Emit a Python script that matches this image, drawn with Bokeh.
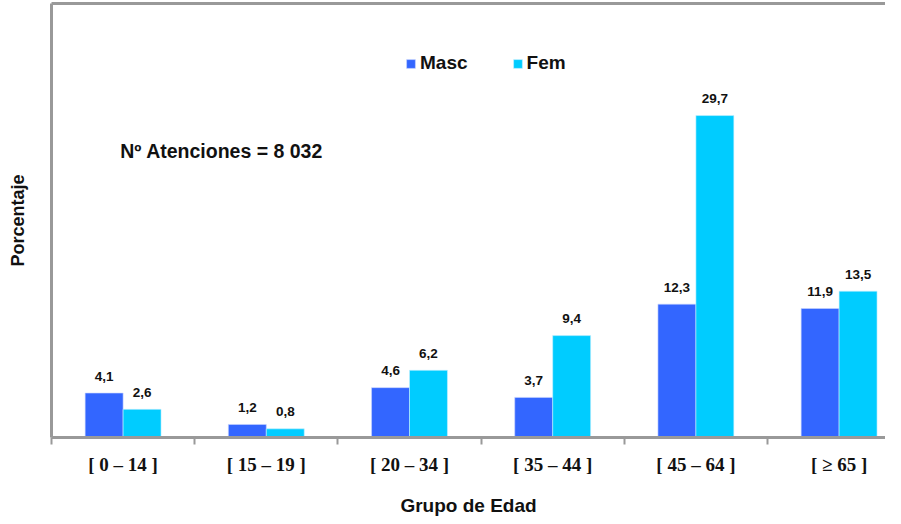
from bokeh.plotting import figure
from bokeh.models import (ColumnDataSource, Range1d, FixedTicker, LinearAxis,
                          Legend, LegendItem)
from bokeh.core.properties import value
from bokeh.embed import file_html
from bokeh.resources import INLINE

categories = ["[ 0 – 14 ]", "[ 15 – 19 ]", "[ 20 – 34 ]", "[ 35 – 44 ]", "[ 45 – 64 ]", "[ ≥ 65 ]"]
masc = [4.1, 1.2, 4.6, 3.7, 12.3, 11.9]
fem = [2.6, 0.8, 6.2, 9.4, 29.7, 13.5]
masc_labels = ["4,1", "1,2", "4,6", "3,7", "12,3", "11,9"]
fem_labels = ["2,6", "0,8", "6,2", "9,4", "29,7", "13,5"]
annotation = "Nº Atenciones  = 8 032"

C_MASC = "#3366FF"
C_FEM = "#00CCFF"
GRAY = "#999999"
SANS = "Liberation Sans"
SERIF = "Liberation Serif"

n = len(categories)
centers = [i + 0.5 for i in range(n)]
bw = 0.265
xm = [c - bw / 2 for c in centers]
xf = [c + bw / 2 for c in centers]

src = ColumnDataSource(dict(xm=xm, xf=xf, masc=masc, fem=fem,
                            ml=masc_labels, fl=fem_labels))

FW, FH = 834, 434
p = figure(frame_width=FW, frame_height=FH, output_backend="svg",
           toolbar_location=None, x_range=Range1d(0, FW / 143.2),
           y_range=Range1d(0, FH / 10.84),
           min_border_left=51, min_border_right=0, min_border_top=3,
           min_border_bottom=0)
p.outline_line_color = None
p.xgrid.visible = False
p.ygrid.visible = False
p.background_fill_color = "white"

r_m = p.vbar(x="xm", top="masc", width=bw, source=src, fill_color=C_MASC,
             line_color="#c8d4ff", line_width=0.6)
r_f = p.vbar(x="xf", top="fem", width=bw, source=src, fill_color=C_FEM,
             line_color="#c8f0ff", line_width=0.6)

lab_kw = dict(text_font=value(SANS), text_font_style="bold",
              text_font_size="13.5px", text_align="center",
              text_baseline="alphabetic", y_offset=-17, text_color="#111111")
p.text(x="xm", y="masc", text="ml", source=src, **lab_kw)
p.text(x="xf", y="fem", text="fl", source=src, **lab_kw)

p.text(x=[0.48], y=[26.4], text=[annotation], text_font=value(SANS),
       text_font_style="bold", text_font_size="19.5px", text_align="left",
       text_baseline="middle", text_color="#111111")

# bottom axis
xa = p.xaxis[0]
xa.ticker = FixedTicker(ticks=centers, minor_ticks=list(range(n)))
xa.major_label_overrides = {c: lab for c, lab in zip(centers, categories)}
xa.major_tick_out = 0
xa.major_tick_in = 0
xa.minor_tick_out = 7
xa.minor_tick_in = 0
xa.minor_tick_line_color = GRAY
xa.minor_tick_line_width = 2
xa.axis_line_color = GRAY
xa.axis_line_width = 3
xa.major_label_text_font = SERIF
xa.major_label_text_font_style = "bold"
xa.major_label_text_font_size = "19px"
xa.major_label_text_color = "#111111"
xa.major_label_standoff = 9
xa.axis_label = "Grupo de Edad"
xa.axis_label_text_font = SANS
xa.axis_label_text_font_style = "bold"
xa.axis_label_text_font_size = "19px"
xa.axis_label_text_color = "#111111"
xa.axis_label_standoff = 17

# left axis
ya = p.yaxis[0]
ya.ticker = FixedTicker(ticks=[])
ya.major_tick_line_color = None
ya.minor_tick_line_color = None
ya.major_label_text_font_size = "0px"
ya.axis_line_color = GRAY
ya.axis_line_width = 3
ya.axis_label = "Porcentaje"
ya.axis_label_text_font = SANS
ya.axis_label_text_font_style = "bold"
ya.axis_label_text_font_size = "18px"
ya.axis_label_text_color = "#111111"
ya.axis_label_standoff = 24

# top line
top = LinearAxis(ticker=FixedTicker(ticks=[]), axis_line_color=GRAY,
                 axis_line_width=3, major_tick_line_color=None,
                 minor_tick_line_color=None, major_label_text_font_size="0px")
p.add_layout(top, "above")

legend = Legend(items=[LegendItem(label="Masc", renderers=[r_m]),
                       LegendItem(label="Fem", renderers=[r_f])],
                orientation="horizontal", location=(354, 363),
                border_line_color=None, background_fill_alpha=0,
                padding=0, margin=0, glyph_width=11, glyph_height=11,
                label_standoff=4, spacing=44,
                label_text_font=SANS, label_text_font_style="bold",
                label_text_font_size="19px", label_text_color="#111111")
p.add_layout(legend, "center")

open("out.html", "w").write(file_html(p, INLINE))
